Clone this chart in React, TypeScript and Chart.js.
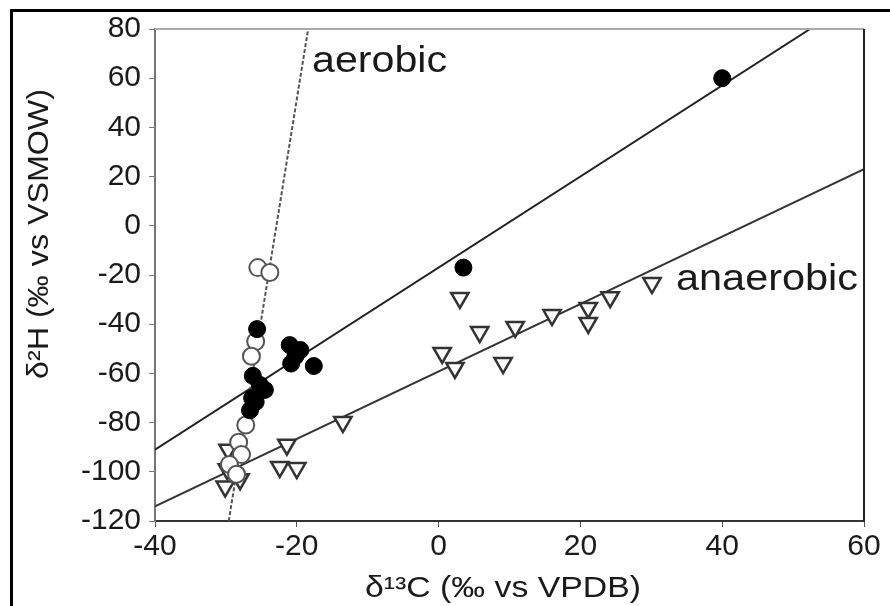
import React, { useEffect, useRef } from "react";
import { Chart, registerables } from "chart.js";

Chart.register(...registerables);

// Filled circles (upper regression line)
const filledX = [40, 3.5, -25.6, -21, -19.5, -20.8, -17.6, -20.2, -26.2, -25.2, -24.5, -26.3, -26.6, -25.8];
const filledY = [60, -17, -42, -48.5, -50.5, -56, -57, -53, -61, -64.7, -66.7, -70, -75, -71.6];

// Open circles (aerobic)
const openX = [-25.5, -23.8, -25.8, -26.4, -27.2, -28.2, -27.8, -29.5, -28.5];
const openY = [-17, -19, -47, -53, -81, -88, -93, -97, -101];

// Open down-triangles (anaerobic)
const triX = [-29.7, -21.4, -22.4, -20, -13.5, -29.8, -28, -30.1, 3, 5.8, 0.5, 2.3, 9.1, 10.8, 16, 21.1, 21.1, 24.2, 30.1];
const triY = [-91, -89, -98, -98.5, -79.8, -99, -103, -106, -29.3, -43.2, -51.7, -57.8, -55.8, -41.1, -36.3, -33.4, -39.5, -29, -23.3];

// Regression / trend lines (end points)
const aerobicLineX = [-29.6, -18.4];
const aerobicLineY = [-120, 80];
const upperLineX = [-40, 52.4];
const upperLineY = [-91, 80];
const anaerobicLineX = [-40, 60];
const anaerobicLineY = [-114, 23];

const xTicks = [-40, -20, 0, 20, 40, 60];
const yTicks = [-120, -100, -80, -60, -40, -20, 0, 20, 40, 60, 80];

const xTitle = "δ¹³C (‰ vs VPDB)";
const yTitle = "δ²H (‰ vs VSMOW)";
const aerobicLabel = "aerobic";
const anaerobicLabel = "anaerobic";

const FONT = "'Liberation Sans', Arial, sans-serif";

function pts(xs: number[], ys: number[]) {
  return xs.map((x, i) => ({ x, y: ys[i] }));
}

function drawStretched(
  ctx: CanvasRenderingContext2D,
  text: string,
  x: number,
  y: number,
  size: number,
  target: number,
  align: CanvasTextAlign,
  rotate = 0
) {
  ctx.save();
  ctx.font = `${size}px ${FONT}`;
  ctx.fillStyle = "#1a1a1a";
  ctx.textAlign = align;
  ctx.textBaseline = rotate ? "middle" : "alphabetic";
  const w = ctx.measureText(text).width;
  ctx.translate(x, y);
  if (rotate) ctx.rotate(rotate);
  ctx.scale(target / w, 1);
  ctx.fillText(text, 0, 0);
  ctx.restore();
}

const decorPlugin = {
  id: "decor",
  afterDraw(chart: any) {
    const ctx = chart.ctx as CanvasRenderingContext2D;
    const a = chart.chartArea;
    ctx.save();
    // outer frame (left and top)
    ctx.fillStyle = "#000";
    ctx.fillRect(10, 9, 890, 3);
    ctx.fillRect(10, 9, 3, 606);
    // top plot border (light gray)
    ctx.strokeStyle = "#aaa";
    ctx.lineWidth = 2;
    ctx.beginPath();
    ctx.moveTo(a.left, a.top);
    ctx.lineTo(a.right, a.top);
    ctx.stroke();
    // right plot border
    ctx.strokeStyle = "#222";
    ctx.beginPath();
    ctx.moveTo(a.right, a.top);
    ctx.lineTo(a.right, a.bottom);
    ctx.stroke();
    ctx.restore();

    drawStretched(ctx, aerobicLabel, 312, 72, 37, 135, "left");
    drawStretched(ctx, anaerobicLabel, 676, 290, 37, 182, "left");
    drawStretched(ctx, xTitle, 503, 597, 29, 276, "center");
    drawStretched(ctx, yTitle, 40, 234, 29, 290, "center", -Math.PI / 2);
  },
};

export default function App() {
  const ref = useRef<HTMLCanvasElement | null>(null);

  useEffect(() => {
    if (!ref.current) return;
    const chart = new Chart(ref.current, {
      type: "scatter",
      data: {
        datasets: [
          {
            type: "line",
            data: pts(aerobicLineX, aerobicLineY),
            borderColor: "#555",
            borderWidth: 2,
            borderDash: [4, 2],
            pointRadius: 0,
            fill: false,
            order: 10,
          } as any,
          {
            type: "line",
            data: pts(upperLineX, upperLineY),
            borderColor: "#222",
            borderWidth: 2,
            pointRadius: 0,
            fill: false,
            order: 10,
          } as any,
          {
            type: "line",
            data: pts(anaerobicLineX, anaerobicLineY),
            borderColor: "#333",
            borderWidth: 2,
            pointRadius: 0,
            fill: false,
            order: 10,
          } as any,
          {
            data: pts(triX, triY),
            pointStyle: "triangle",
            rotation: 180,
            pointRadius: 10,
            backgroundColor: "#fff",
            borderColor: "#333",
            borderWidth: 2.5,
            order: 3,
          } as any,
          {
            data: pts(openX, openY),
            pointStyle: "circle",
            pointRadius: 8.5,
            backgroundColor: "#fff",
            borderColor: "#555",
            borderWidth: 2,
            order: 2,
          } as any,
          {
            data: pts(filledX, filledY),
            pointStyle: "circle",
            pointRadius: 8.5,
            backgroundColor: "#000",
            borderColor: "#000",
            borderWidth: 1,
            order: 1,
          } as any,
        ],
      },
      options: {
        animation: false,
        responsive: true,
        maintainAspectRatio: false,
        layout: { padding: { top: 29, right: 26, left: 0, bottom: 0 } },
        plugins: {
          legend: { display: false },
          tooltip: { enabled: false },
        },
        scales: {
          x: {
            type: "linear",
            min: -40,
            max: 60,
            afterBuildTicks: (s: any) => {
              s.ticks = xTicks.map((v) => ({ value: v }));
            },
            afterFit: (s: any) => {
              s.height = 85;
            },
            ticks: {
              color: "#1a1a1a",
              font: { family: FONT, size: 30 },
              padding: 2,
            },
            grid: { drawOnChartArea: false, drawTicks: true, tickLength: 6, color: "#555" },
            border: { display: true, color: "#333", width: 2 },
          },
          y: {
            type: "linear",
            min: -120,
            max: 80,
            afterBuildTicks: (s: any) => {
              s.ticks = yTicks.map((v) => ({ value: v }));
            },
            afterFit: (s: any) => {
              s.width = 155;
            },
            ticks: {
              color: "#1a1a1a",
              font: { family: FONT, size: 30 },
              padding: 8,
            },
            grid: { drawOnChartArea: false, drawTicks: true, tickLength: 6, color: "#777" },
            border: { display: true, color: "#777", width: 2 },
          },
        },
      },
      plugins: [decorPlugin],
    } as any);
    return () => chart.destroy();
  }, []);

  return (
    <div
      style={{
        position: "fixed",
        left: 0,
        top: 0,
        width: 890,
        height: 606,
        background: "#fff",
      }}
    >
      <canvas ref={ref} />
    </div>
  );
}
